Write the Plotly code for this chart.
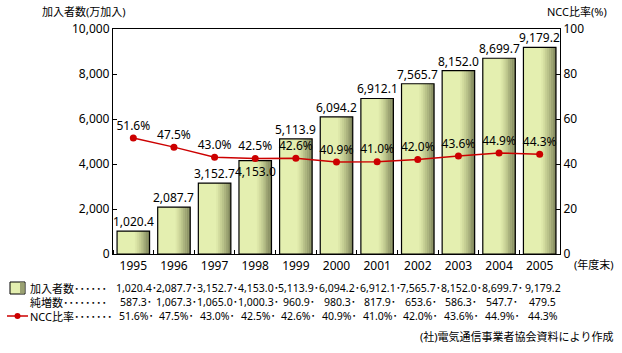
import plotly.graph_objects as go

years = [1995, 1996, 1997, 1998, 1999, 2000, 2001, 2002, 2003, 2004, 2005]
subscribers = [1020.4, 2087.7, 3152.7, 4153.0, 5113.9, 6094.2, 6912.1, 7565.7, 8152.0, 8699.7, 9179.2]
net_increase = [587.3, 1067.3, 1065.0, 1000.3, 960.9, 980.3, 817.9, 653.6, 586.3, 547.7, 479.5]
ncc_ratio = [51.6, 47.5, 43.0, 42.5, 42.6, 40.9, 41.0, 42.0, 43.6, 44.9, 44.3]

left_ticks = [0, 2000, 4000, 6000, 8000, 10000]
right_ticks = [0, 20, 40, 60, 80, 100]

FONT = "Noto Sans, Noto Sans CJK JP, sans-serif"
BAR_LIGHT = "#e4efb0"
GRAD = ["#dde7a9", "#d3dc9f", "#c7d095", "#bac38a", "#acb47f", "#9ea574", "#8f9668", "#80865c"]
RED = "#cc0000"

n = len(years)
fig = go.Figure()

BW = 0.8
fig.add_trace(go.Bar(x=years, y=subscribers, width=BW, offset=-BW / 2,
                     marker=dict(color=BAR_LIGHT, line=dict(width=0)), hoverinfo="skip"))
start = 0.55
step = (1 - start) / len(GRAD)
for i, c in enumerate(GRAD):
    off = -BW / 2 + BW * (start + i * step)
    fig.add_trace(go.Bar(x=years, y=subscribers, width=BW * step + 0.005, offset=off,
                         marker=dict(color=c, line=dict(width=0)), hoverinfo="skip"))
fig.add_trace(go.Bar(x=years, y=subscribers, width=BW, offset=-BW / 2,
                     marker=dict(color="rgba(0,0,0,0)", line=dict(color="black", width=1.2))))

fig.add_trace(go.Scatter(x=years, y=ncc_ratio, yaxis="y2", mode="lines+markers+text",
                         line=dict(color=RED, width=1.5),
                         marker=dict(color=RED, size=7),
                         text=[f"{v:.1f}%" for v in ncc_ratio], textposition="top center",
                         textfont=dict(size=12, color="black", family=FONT)))

annotations = []
for yr, v in zip(years, subscribers):
    if yr == 1998:
        annotations.append(dict(x=yr, y=v, xref="x", yref="y", text=f"{v:,.1f}", showarrow=False,
                                yanchor="middle", yshift=-11, font=dict(size=12, family=FONT, color="black")))
    else:
        annotations.append(dict(x=yr, y=v, xref="x", yref="y", text=f"{v:,.1f}", showarrow=False,
                                yanchor="bottom", yshift=-1, font=dict(size=12, family=FONT, color="black")))


def py(p):
    return (254 - p) / 225.0


def px(p):
    return (p - 113) / 447.0


annotations.append(dict(x=px(40), y=py(12), xref="paper", yref="paper", text="加入者数(万加入)",
                        showarrow=False, xanchor="left", yanchor="middle",
                        font=dict(size=11, family=FONT, color="black")))
annotations.append(dict(x=px(545), y=py(12), xref="paper", yref="paper", text="NCC比率(%)",
                        showarrow=False, xanchor="left", yanchor="middle",
                        font=dict(size=11, family=FONT, color="black")))
annotations.append(dict(x=px(572), y=py(264), xref="paper", yref="paper", text="(年度末)",
                        showarrow=False, xanchor="left", yanchor="middle",
                        font=dict(size=11, family=FONT, color="black")))

rows = [
    ("加入者数･･････", [f"{v:,.1f}" for v in subscribers], 288),
    ("純増数････････", [f"{v:,.1f}" for v in net_increase], 302),
    ("NCC比率･･･････", [f"{v:.1f}%" for v in ncc_ratio], 316),
]
for label, vals, yp in rows:
    annotations.append(dict(x=px(28), y=py(yp), xref="paper", yref="paper", text=label,
                            showarrow=False, xanchor="left", yanchor="middle",
                            font=dict(size=11, family=FONT, color="black")))
    for i, (yr, t) in enumerate(zip(years, vals)):
        txt = t + ("･" if i < n - 1 else "")
        annotations.append(dict(x=yr, y=py(yp), xref="x", yref="paper", text=txt,
                                showarrow=False, xanchor="center", yanchor="middle", xshift=3,
                                font=dict(size=10.5, family=FONT, color="black")))

annotations.append(dict(x=px(615), y=py(336), xref="paper", yref="paper",
                        text="(社)電気通信事業者協会資料により作成",
                        showarrow=False, xanchor="right", yanchor="middle",
                        font=dict(size=11, family=FONT, color="black")))

shapes = [
    dict(type="rect", xref="paper", yref="paper", x0=px(10), x1=px(25), y0=py(294), y1=py(282),
         fillcolor=BAR_LIGHT, line=dict(color="black", width=1)),
    dict(type="rect", xref="paper", yref="paper", x0=px(20), x1=px(24.5), y0=py(293.5), y1=py(282.5),
         fillcolor="#9aa172", line=dict(width=0)),
    dict(type="line", xref="paper", yref="paper", x0=px(7), x1=px(28), y0=py(316), y1=py(316),
         line=dict(color=RED, width=1.5)),
    dict(type="circle", xref="paper", yref="paper", x0=px(14.5), x1=px(20.5), y0=py(319), y1=py(313),
         fillcolor=RED, line=dict(color=RED, width=0)),
]

fig.update_layout(
    width=622, height=353,
    margin=dict(l=113, r=62, t=29, b=99),
    paper_bgcolor="white", plot_bgcolor="white",
    barmode="overlay", showlegend=False,
    font=dict(family=FONT, size=12, color="black"),
    xaxis=dict(range=[years[0] - 0.5, years[-1] + 0.5], tickvals=years, tickangle=0,
               showline=True, linecolor="black", linewidth=1.2, mirror=True,
               ticks="", showgrid=False, zeroline=False,
               tickfont=dict(size=12, family=FONT),
               minor=dict(tick0=years[0] - 0.5, dtick=1, ticks="inside", ticklen=4,
                          tickcolor="black", showgrid=False)),
    yaxis=dict(range=[0, 10000], tickvals=left_ticks, tickformat=",d",
               showline=True, linecolor="black", linewidth=1.2, ticks="inside", ticklen=4,
               tickcolor="black", showgrid=False, zeroline=False, tickfont=dict(size=12, family=FONT)),
    yaxis2=dict(range=[0, 100], tickvals=right_ticks, overlaying="y", side="right",
                showline=True, linecolor="black", linewidth=1.2, ticks="inside", ticklen=4,
                tickcolor="black", showgrid=False, zeroline=False, tickfont=dict(size=12, family=FONT)),
    annotations=annotations,
    shapes=shapes,
)

fig.write_html("out.html")
